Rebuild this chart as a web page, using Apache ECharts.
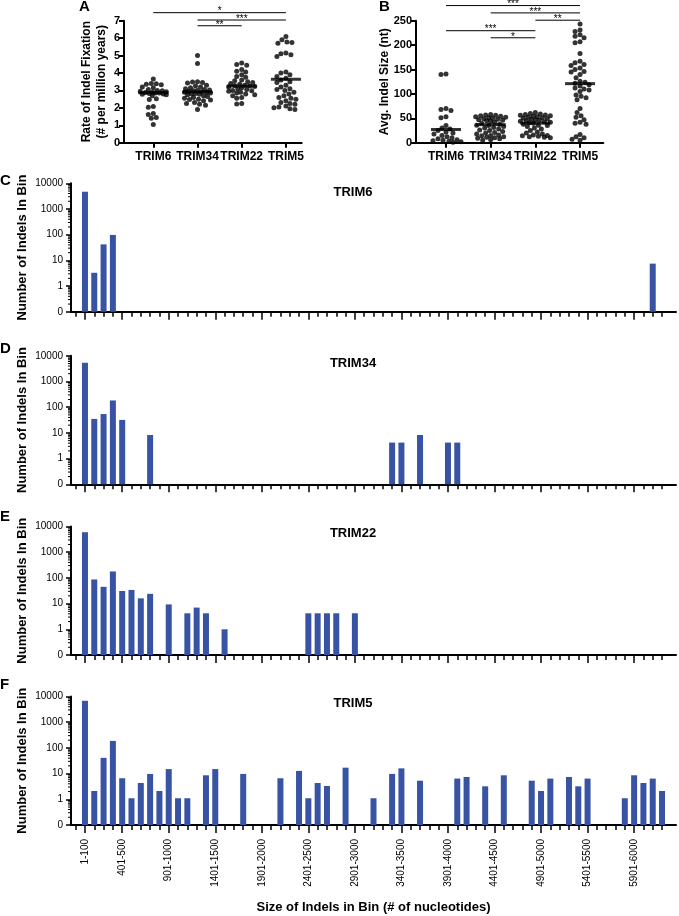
<!DOCTYPE html>
<html><head><meta charset="utf-8">
<script src="https://cdn.jsdelivr.net/npm/echarts@6/dist/echarts.min.js"></script>
<style>html,body{margin:0;padding:0;background:#fff}#c{width:679px;height:916px}</style>
</head><body><div id="c"></div>
<script>
// ---------- DATA ----------
const groups = ['TRIM6', 'TRIM34', 'TRIM22', 'TRIM5'];

// Panel A: rate of indel fixation (# per million years)
const rateTRIM6 = [3.65, 3.4, 3.38, 3.35, 3.33, 3.2, 3.15, 3.05, 3.0, 2.98, 2.95, 2.92, 2.9, 2.88, 2.85, 2.85, 2.82, 2.8, 2.78, 2.75, 2.7, 2.52, 2.48, 2.08, 2.03, 1.68, 1.62, 1.45, 1.4, 1.05];
const rateTRIM34 = [5.0, 4.55, 3.5, 3.48, 3.45, 3.42, 3.3, 3.25, 3.2, 3.15, 3.1, 3.05, 3.02, 3.0, 2.98, 2.95, 2.92, 2.9, 2.88, 2.85, 2.82, 2.8, 2.78, 2.75, 2.7, 2.65, 2.6, 2.55, 2.5, 2.48, 2.45, 2.4, 2.3, 2.25, 2.2, 2.15, 1.9];
const rateTRIM22 = [4.58, 4.48, 4.45, 4.2, 4.1, 4.05, 3.9, 3.8, 3.75, 3.6, 3.55, 3.5, 3.45, 3.4, 3.35, 3.3, 3.28, 3.25, 3.22, 3.2, 3.15, 3.1, 3.05, 3.0, 2.98, 2.95, 2.9, 2.85, 2.8, 2.75, 2.7, 2.6, 2.55, 2.25, 2.22];
const rateTRIM5 = [6.1, 5.9, 5.78, 5.75, 5.7, 5.15, 5.1, 5.05, 4.95, 4.05, 4.0, 3.9, 3.8, 3.7, 3.6, 3.5, 3.45, 3.3, 3.2, 3.1, 3.05, 3.0, 2.9, 2.8, 2.7, 2.6, 2.55, 2.5, 2.4, 2.3, 2.25, 2.2, 2.1, 2.05, 2.0, 1.95, 1.9];
const rateMeans = [2.87, 2.92, 3.25, 3.64];
const rateSig = [[0, 3, 7.46], [1, 3, 7.04], [1, 2, 6.71]];
const rateSigLabels = ['*', '***', '**'];

// Panel B: average indel size (nt)
const sizeTRIM6 = [141, 140, 70, 68, 66, 53, 51, 35, 30, 28, 25, 22, 20, 18, 15, 12, 10, 8, 6, 5, 4, 3, 2, 1];
const sizeTRIM34 = [58, 57, 56, 55, 54, 53, 52, 51, 50, 49, 48, 47, 46, 45, 44, 42, 40, 38, 36, 35, 33, 31, 30, 28, 26, 25, 23, 21, 20, 18, 16, 15, 14, 12, 11, 10, 9, 8, 6, 5];
const sizeTRIM22 = [62, 60, 59, 58, 57, 56, 55, 54, 53, 52, 51, 50, 49, 48, 47, 46, 45, 44, 43, 42, 41, 40, 38, 36, 35, 33, 30, 28, 25, 22, 20, 18, 16, 15, 14, 13, 12, 11, 10];
const sizeTRIM5 = [243, 231, 228, 221, 218, 215, 207, 205, 183, 167, 164, 160, 158, 153, 150, 146, 145, 140, 133, 126, 124, 122, 119, 116, 112, 110, 108, 105, 98, 95, 92, 88, 70, 62, 55, 52, 47, 42, 40, 38, 17, 12, 10, 7, 5];
const sizeMeans = [27, 37, 40, 121];
const sizeSig = [[0, 3, 281], [1, 3, 266], [2, 3, 251], [0, 2, 229.5], [1, 2, 215]];
const sizeSigLabels = ['***', '***', '**', '***', '*'];

// Panels C-F: number of indels per 100-nt bin (bins 1-100 ... 6201-6300)
const binsTRIM6 = [
  4700, 3.3, 42, 98, 0, 0, 0, 0, 0, 0,
  0, 0, 0, 0, 0, 0, 0, 0, 0, 0,
  0, 0, 0, 0, 0, 0, 0, 0, 0, 0,
  0, 0, 0, 0, 0, 0, 0, 0, 0, 0,
  0, 0, 0, 0, 0, 0, 0, 0, 0, 0,
  0, 0, 0, 0, 0, 0, 0, 0, 0, 0,
  0, 7.5, 0];
const binsTRIM34 = [
  5350, 35, 54, 183, 32, 0, 0, 8.3, 0, 0,
  0, 0, 0, 0, 0, 0, 0, 0, 0, 0,
  0, 0, 0, 0, 0, 0, 0, 0, 0, 0,
  0, 0, 0, 4.2, 4.2, 0, 8.3, 0, 0, 4.2,
  4.2, 0, 0, 0, 0, 0, 0, 0, 0, 0,
  0, 0, 0, 0, 0, 0, 0, 0, 0, 0,
  0, 0, 0];
const binsTRIM22 = [
  6000, 87, 45, 178, 31, 34, 16, 24, 0, 9.3,
  0, 4.2, 7, 4.2, 0, 1, 0, 0, 0, 0,
  0, 0, 0, 0, 4.2, 4.2, 4.2, 4.2, 0, 4.2,
  0, 0, 0, 0, 0, 0, 0, 0, 0, 0,
  0, 0, 0, 0, 0, 0, 0, 0, 0, 0,
  0, 0, 0, 0, 0, 0, 0, 0, 0, 0,
  0, 0, 0];
const binsTRIM5 = [
  6800, 2.1, 41, 187, 6.6, 1.1, 4.3, 9.7, 2.1, 15,
  1.1, 1.1, 0, 8.6, 15, 0, 0, 9.7, 0, 0,
  0, 6.6, 0, 12.7, 1.1, 4.3, 3.3, 0, 17, 0,
  0, 1.1, 0, 9.7, 16, 0, 5.3, 0, 0, 0,
  6.4, 7.4, 0, 3.2, 0, 8.6, 0, 0, 5.3, 2.1,
  6.4, 0, 7.4, 3.2, 6.4, 0, 0, 0, 1.1, 8.6,
  4.3, 6.4, 2.1];
const binPanels = [['TRIM6', binsTRIM6], ['TRIM34', binsTRIM34], ['TRIM22', binsTRIM22], ['TRIM5', binsTRIM5]];
const logTickLabels = ['0', '1', '10', '100', '1000', '10000'];
const majorBins = [0, 4, 9, 14, 19, 24, 29, 34, 39, 44, 49, 54, 59];

// ---------- LAYOUT ----------
const FONT = 'Liberation Sans, Arial, sans-serif';
const BLUE = '#3853a4';
const bins = Array.from({length: binsTRIM6.length}, (_, i) => (i * 100 + 1) + '-' + ((i + 1) * 100));
const cats = [''].concat(bins, ['']);
const majorSet = new Set(majorBins.map(b => b + 1));

// beeswarm layout (deterministic, GraphPad-like spreading of close values)
function swarm(vals, pxPerUnit, dot, maxPx, catPx, ci) {
  const sorted = vals.slice().sort((a, b) => b - a);
  const placed = [];
  const out = [];
  sorted.forEach(v => {
    const y = v * pxPerUnit;
    let best = null, bestD = -1;
    for (let k = 0; k <= 2 * maxPx; k++) {
      const dx = (k % 2 === 0 ? 1 : -1) * Math.ceil(k / 2);
      let minD = Infinity;
      for (const p of placed) {
        const ddx = p[0] - dx, ddy = p[1] - y;
        minD = Math.min(minD, Math.sqrt(ddx * ddx + ddy * ddy));
      }
      if (minD >= dot) { best = dx; break; }
      if (minD > bestD) { bestD = minD; best = dx; }
    }
    placed.push([best, y]);
    out.push([ci + best / catPx, v]);
  });
  return out;
}

const grids = [], xAxes = [], yAxes = [], series = [], graphics = [];

function dotPanel(opt) {
  const gi = grids.length;
  grids.push({left: opt.left, top: opt.top, width: opt.width, height: opt.height});
  grids.push({left: opt.catLeft, top: opt.top, width: opt.catWidth, height: opt.height});
  const xi = xAxes.length, yi = yAxes.length;
  xAxes.push({type: 'value', gridIndex: gi, min: opt.xMin, max: opt.xMax,
    axisLine: {show: true, onZero: false, lineStyle: {color: '#000', width: 2}},
    axisTick: {show: false}, axisLabel: {show: false}, splitLine: {show: false}});
  xAxes.push({type: 'category', gridIndex: gi + 1, data: groups, boundaryGap: true,
    axisLine: {show: false},
    axisTick: {show: true, alignWithLabel: true, interval: 0, length: 5, lineStyle: {color: '#000', width: 2}},
    axisLabel: {interval: 0, color: '#000', fontFamily: FONT, fontWeight: 'bold', fontSize: 12, margin: 8}});
  yAxes.push({type: 'value', gridIndex: gi, min: 0, max: opt.yMax, interval: opt.yInt,
    axisLine: {show: true, onZero: false, lineStyle: {color: '#000', width: 2}},
    axisTick: {show: true, length: 5, lineStyle: {color: '#000', width: 2}},
    axisLabel: {color: '#000', fontFamily: FONT, fontWeight: 'bold', fontSize: 11, margin: 4},
    splitLine: {show: false},
    name: opt.name, nameLocation: 'middle', nameRotate: 90, nameGap: opt.nameGap, nameMoveOverlap: false,
    nameTextStyle: {color: '#000', fontFamily: FONT, fontWeight: 'bold', fontSize: 12, lineHeight: 15}});
  yAxes.push({type: 'value', gridIndex: gi + 1, min: 0, max: opt.yMax, show: false});
  const ppu = opt.height / opt.yMax;
  opt.values.forEach((vals, ci) => {
    series.push({type: 'scatter', xAxisIndex: xi, yAxisIndex: yi, symbol: 'circle', symbolSize: 5,
      itemStyle: {color: '#000'}, data: swarm(vals, ppu, 4.6, opt.maxPx, opt.catPx, ci), silent: true});
  });
  series.push({type: 'scatter', xAxisIndex: xi, yAxisIndex: yi, symbol: 'rect', symbolSize: [30, 3], z: 5,
    itemStyle: {color: '#000'}, data: opt.means.map((m, i) => [i, m]), silent: true});
  series.push({type: 'custom', xAxisIndex: xi, yAxisIndex: yi, clip: false, silent: true, z: 6,
    data: opt.sig,
    renderItem: (params, api) => {
      const y = api.value(2);
      const p1 = api.coord([api.value(0), y]), p2 = api.coord([api.value(1), y]);
      return {type: 'group', children: [
        {type: 'line', shape: {x1: p1[0], y1: p1[1], x2: p2[0], y2: p2[1]}, style: {stroke: '#000', lineWidth: 1}},
        {type: 'text', x: (p1[0] + p2[0]) / 2, y: p1[1] - 1,
          style: {text: opt.sigLabels[params.dataIndex], font: '10px ' + FONT, fill: '#000', align: 'center', verticalAlign: 'middle'}}
      ]};
    }});
}

dotPanel({left: 124, top: 20.7, width: 177.7, height: 122, catLeft: 131.2, catWidth: 176.8, catPx: 44.2, maxPx: 13,
  xMin: -0.663, xMax: 3.357, yMax: 7, yInt: 1, name: 'Rate of Indel Fixation\n(# per million years)', nameGap: 15,
  values: [rateTRIM6, rateTRIM34, rateTRIM22, rateTRIM5], means: rateMeans, sig: rateSig, sigLabels: rateSigLabels});
dotPanel({left: 416, top: 20.7, width: 187.3, height: 122, catLeft: 423.65, catWidth: 178.8, catPx: 44.7, maxPx: 15,
  xMin: -0.671, xMax: 3.52, yMax: 250, yInt: 50, name: 'Avg. Indel Size (nt)', nameGap: 24,
  values: [sizeTRIM6, sizeTRIM34, sizeTRIM22, sizeTRIM5], means: sizeMeans, sig: sizeSig, sigLabels: sizeSigLabels});

const barTops = [183.3, 355.8, 526.5, 696.5];
const barLetters = ['C', 'D', 'E', 'F'];
const letterY = [173, 341, 509, 677];
const minorTicks = [];
for (let d = 0; d < 5; d++) for (let k = 2; k <= 9; k++) minorTicks.push([0, d + Math.log10(k)]);

binPanels.forEach(([title, counts], p) => {
  const gi = grids.length;
  const isLast = p === binPanels.length - 1;
  grids.push({left: 71, top: barTops[p], width: 605, height: 128.5});
  const xi = xAxes.length, yi = yAxes.length;
  xAxes.push({type: 'category', gridIndex: gi, data: cats, boundaryGap: true,
    axisLine: {show: true, lineStyle: {color: '#000', width: 2}},
    axisTick: {show: true, alignWithLabel: true, interval: (i) => i <= 63, length: 5, lineStyle: {color: '#000', width: 1.5}},
    axisLabel: {show: false}, splitLine: {show: false}});
  xAxes.push({type: 'category', gridIndex: gi, data: cats, boundaryGap: true, position: 'bottom',
    axisLine: {show: false},
    axisTick: {show: true, alignWithLabel: true, interval: (i) => majorSet.has(i), length: 8, lineStyle: {color: '#000', width: 1.5}},
    axisLabel: {show: isLast, interval: (i) => majorSet.has(i), rotate: 90, fontSize: 10, fontFamily: FONT, color: '#000', margin: 14},
    name: isLast ? 'Size of Indels in Bin (# of nucleotides)' : '', nameLocation: 'middle', nameGap: 76, nameMoveOverlap: false,
    nameTextStyle: {color: '#000', fontFamily: FONT, fontWeight: 'bold', fontSize: 13}});
  yAxes.push({type: 'value', gridIndex: gi, min: 0, max: 5, interval: 1,
    axisLine: {show: true, onZero: false, lineStyle: {color: '#000', width: 2}},
    axisTick: {show: true, length: 5, lineStyle: {color: '#000', width: 1.5}},
    axisLabel: {color: '#000', fontFamily: FONT, fontSize: 10, margin: 8, formatter: (v) => logTickLabels[Math.round(v)]},
    splitLine: {show: false},
    name: 'Number of Indels In Bin', nameLocation: 'middle', nameRotate: 90, nameGap: 42, nameMoveOverlap: false,
    nameTextStyle: {color: '#000', fontFamily: FONT, fontWeight: 'bold', fontSize: 13}});
  series.push({type: 'bar', xAxisIndex: xi, yAxisIndex: yi, barWidth: 6, silent: true,
    itemStyle: {color: BLUE},
    data: [null].concat(counts.map(v => v > 0 ? Math.log10(v) + 1 : null), [null])});
  series.push({type: 'custom', xAxisIndex: xi, yAxisIndex: yi, clip: false, silent: true,
    data: minorTicks,
    renderItem: (params, api) => {
      const x = params.coordSys.x;
      const y = api.coord([0, api.value(1)])[1];
      return {type: 'line', shape: {x1: x - 3, y1: y, x2: x, y2: y}, style: {stroke: '#000', lineWidth: 1}};
    }});
  graphics.push({type: 'text', x: 353, y: [192, 363, 533.5, 703][p],
    style: {text: title, font: 'bold 13px ' + FONT, fill: '#000', align: 'center', verticalAlign: 'middle'}});
  graphics.push({type: 'text', x: 0, y: letterY[p],
    style: {text: barLetters[p], font: 'bold 15px ' + FONT, fill: '#000', align: 'left', verticalAlign: 'top'}});
});
graphics.push({type: 'text', x: 79, y: -1, style: {text: 'A', font: 'bold 15px ' + FONT, fill: '#000', align: 'left', verticalAlign: 'top'}});
graphics.push({type: 'text', x: 379, y: -1, style: {text: 'B', font: 'bold 15px ' + FONT, fill: '#000', align: 'left', verticalAlign: 'top'}});

const chart = echarts.init(document.getElementById('c'), null, {renderer: 'canvas'});
chart.setOption({
  animation: false,
  backgroundColor: '#fff',
  textStyle: {fontFamily: FONT},
  grid: grids, xAxis: xAxes, yAxis: yAxes, series: series, graphic: graphics
});
</script>
</body></html>
